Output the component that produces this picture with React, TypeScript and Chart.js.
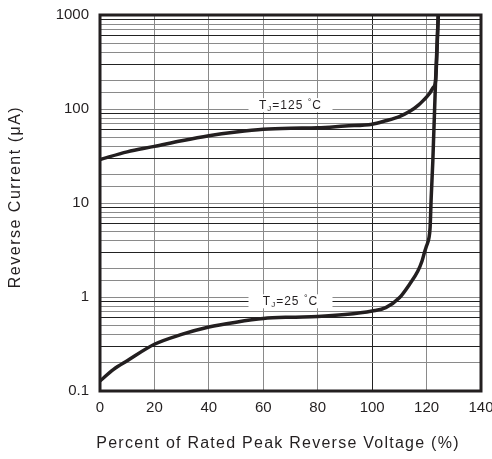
import React, { useEffect, useRef } from "react";
import { Chart, registerables } from "chart.js";

Chart.register(...registerables);

// Percent of rated peak reverse voltage (%)
const xTj125 = [0, 10, 20, 30, 40, 50, 60, 70, 80, 90, 100, 105, 110, 114, 117, 119, 121, 122.5, 123.3, 124.3];
// Reverse current (µA) at TJ = 125 °C
const yTj125 = [29, 35, 40, 46, 52, 57, 61, 62.5, 63, 66, 69, 75, 83, 95, 110, 125, 145, 170, 198, 1000];

const xTj25 = [0, 5, 10, 20, 30, 40, 50, 60, 70, 80, 90, 100, 105, 110, 114, 116.8, 118.3, 119.4, 120, 120.9, 121.3, 121.7, 122.3, 123.3, 124.3];
// Reverse current (µA) at TJ = 25 °C
const yTj25 = [0.128, 0.17, 0.21, 0.314, 0.4, 0.48, 0.54, 0.59, 0.61, 0.62, 0.65, 0.71, 0.77, 0.98, 1.4, 1.89, 2.4, 3.1, 3.5, 4.3, 5.5, 11.4, 28, 198, 1000];

const xTicks = [0, 20, 40, 60, 80, 100, 120, 140];
const yDecades = [0.1, 1, 10, 100, 1000];

const curveLabels = [
  { x: 70, y: 110, temp: "125" },
  { x: 70, y: 0.9, temp: "25" },
];

const xTitle = "Percent of Rated Peak Reverse Voltage (%)";
const yTitle = "Reverse Current (μA)";

const INK = "#231f20";
const FONT = "'Liberation Sans', Arial, sans-serif";

const labelPlugin = {
  id: "curveLabels",
  afterDatasetsDraw(chart: any) {
    const { ctx, scales } = chart;
    ctx.save();
    (ctx as any).letterSpacing = "1px";
    curveLabels.forEach((l) => {
      const cx = scales.x.getPixelForValue(l.x);
      const cy = scales.y.getPixelForValue(l.y);
      ctx.fillStyle = "#ffffff";
      ctx.fillRect(cx - 42, cy - 7, 84, 14);
      const parts = [
        { t: "T", size: 12, dy: 0 },
        { t: "J", size: 8, dy: 2 },
        { t: "=" + l.temp + " ", size: 12, dy: 0 },
        { t: "°", size: 9, dy: -4 },
        { t: "C", size: 12, dy: 0 },
      ];
      let total = 0;
      parts.forEach((p) => {
        ctx.font = `${p.size}px ${FONT}`;
        total += ctx.measureText(p.t).width;
      });
      let x = cx - total / 2;
      const base = cy + 4;
      ctx.fillStyle = INK;
      ctx.textBaseline = "alphabetic";
      ctx.textAlign = "left";
      parts.forEach((p) => {
        ctx.font = `${p.size}px ${FONT}`;
        ctx.fillText(p.t, x, base + p.dy);
        x += ctx.measureText(p.t).width;
      });
    });
    ctx.restore();
  },
  afterDraw(chart: any) {
    const { ctx, chartArea } = chart;
    ctx.save();
    ctx.strokeStyle = INK;
    ctx.lineWidth = 3;
    ctx.strokeRect(chartArea.left, chartArea.top, chartArea.right - chartArea.left, chartArea.bottom - chartArea.top);

    // axis titles
    ctx.fillStyle = INK;
    ctx.font = `16px ${FONT}`;
    (ctx as any).letterSpacing = "1.25px";
    ctx.textAlign = "center";
    ctx.textBaseline = "middle";
    ctx.fillText(xTitle, 278, 444);
    ctx.translate(16, 197);
    ctx.rotate(-Math.PI / 2);
    (ctx as any).letterSpacing = "1.5px";
    ctx.fillText(yTitle, 0, 0);
    ctx.restore();
  },
};

function isDecade(v: number) {
  const l = Math.log10(v);
  return Math.abs(l - Math.round(l)) < 1e-6;
}

function mantissa(v: number) {
  const p = Math.floor(Math.log10(v) + 1e-9);
  return Math.round(v / Math.pow(10, p));
}

export default function App() {
  const ref = useRef<HTMLCanvasElement | null>(null);

  useEffect(() => {
    if (!ref.current) return;
    const chart = new Chart(ref.current, {
      type: "line",
      data: {
        datasets: [
          {
            label: "TJ=125 °C",
            data: xTj125.map((x, i) => ({ x, y: yTj125[i] })),
            borderColor: INK,
            borderWidth: 3.5,
            pointRadius: 0,
            cubicInterpolationMode: "monotone",
            fill: false,
          },
          {
            label: "TJ=25 °C",
            data: xTj25.map((x, i) => ({ x, y: yTj25[i] })),
            borderColor: INK,
            borderWidth: 3.5,
            pointRadius: 0,
            cubicInterpolationMode: "monotone",
            fill: false,
          },
        ],
      },
      options: {
        animation: false,
        responsive: true,
        maintainAspectRatio: false,
        layout: { padding: { top: 15, right: 11, left: 0, bottom: 0 } },
        plugins: { legend: { display: false }, tooltip: { enabled: false } },
        scales: {
          x: {
            type: "linear",
            min: 0,
            max: 140,
            afterFit: (s: any) => {
              s.height = 68;
              s.paddingLeft = 0;
              s.paddingRight = 0;
            },
            afterBuildTicks: (s: any) => {
              s.ticks = xTicks.map((v) => ({ value: v }));
            },
            grid: {
              drawTicks: false,
              color: (c: any) => (c.tick && c.tick.value === 100 ? "#222222" : "#8a8a8a"),
              lineWidth: 1,
            },
            border: { display: false },
            ticks: {
              padding: 8,
              color: INK,
              font: { family: FONT, size: 15 },
              maxRotation: 0,
              autoSkip: false,
            },
          },
          y: {
            type: "logarithmic",
            min: yDecades[0],
            max: yDecades[yDecades.length - 1],
            afterFit: (s: any) => {
              s.width = 100;
              s.paddingTop = 0;
              s.paddingBottom = 0;
            },
            grid: {
              drawTicks: false,
              color: (c: any) => {
                const v = c.tick ? c.tick.value : 1;
                const m = mantissa(v);
                return m === 3 || m === 6 || m === 9 ? "#222222" : "#8a8a8a";
              },
              lineWidth: 1,
            },
            border: { display: false },
            ticks: {
              padding: 11,
              color: INK,
              autoSkip: false,
              font: { family: FONT, size: 15 },
              callback: (v: any) => {
                const n = Number(v);
                if (!isDecade(n)) return "";
                const d = yDecades.find((t) => Math.abs(Math.log10(t) - Math.log10(n)) < 1e-6);
                return d === undefined ? "" : String(d);
              },
            },
          },
        },
      },
      plugins: [labelPlugin],
    } as any);
    return () => chart.destroy();
  }, []);

  return (
    <div style={{ position: "fixed", left: 0, top: 0, width: 492, height: 459, background: "#fff" }}>
      <canvas ref={ref} />
    </div>
  );
}
